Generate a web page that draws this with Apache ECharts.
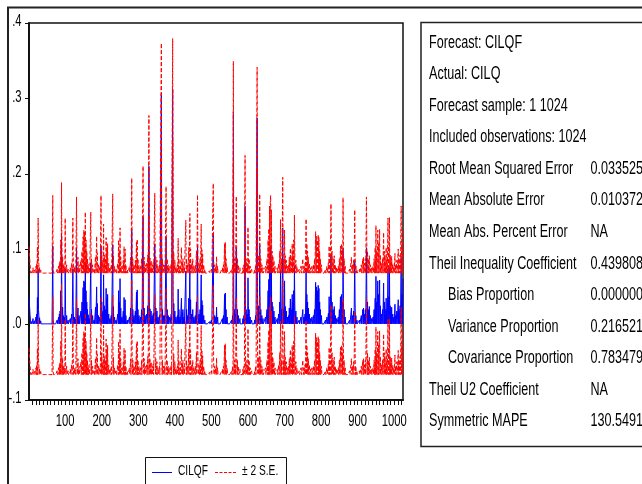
<!DOCTYPE html>
<html>
<head>
<meta charset="utf-8">
<script src="https://cdn.jsdelivr.net/npm/echarts@6/dist/echarts.min.js"></script>
<style>
  html, body { margin: 0; padding: 0; background: #ffffff; }
  #chart { width: 642px; height: 484px; }
</style>
</head>
<body>
<div id="chart"></div>
<script>
// Forecast evaluation: CILQF with ±2 standard-error band, observations 1..1024
const nObs = 1024;
const baseLevel = 0.001;   // forecast level between episodes
const twoSE = 0.0673;      // two forecast standard errors

// Observations where the forecast departs from its base level, and the forecast there
const spikeObs = [
  1, 2, 3, 4, 5, 8, 12, 16, 20, 22, 24, 26, 27, 28, 30, 33,
  66, 67,
  78, 82, 84, 86, 88, 90, 91, 93, 95, 98, 100, 101, 104, 108,
  114, 118, 121, 122, 125, 128, 131, 132, 135, 138,
  143, 146, 149, 151, 153, 155, 157, 159, 161, 163,
  166, 170, 172, 175, 179, 183, 186, 188, 191, 195,
  198, 200, 203, 205, 207, 210, 212, 214, 216, 219,
  222, 226, 230, 232, 235, 239,
  244, 246, 248, 250, 252, 255,
  259, 261, 264, 266, 270,
  276, 279, 282, 283, 285, 288,
  292, 295, 297, 299, 302,
  306, 309, 313, 314, 316, 319,
  323, 326, 329, 330, 332, 335, 338,
  341, 345, 346, 348, 351, 354,
  358, 363, 364, 366, 369,
  372, 376, 377, 379, 382,
  386, 390, 394, 395, 397, 400, 403,
  407, 409, 411, 414, 418, 420, 422, 425,
  430, 432, 435, 438, 441, 443, 446, 449, 452,
  456, 459, 462, 463, 466, 469, 472, 474, 476, 479, 482,
  495, 500, 505, 506, 509, 512, 514, 517,
  530, 533, 536, 538, 540, 543,
  555, 558, 560, 561, 563, 565, 568, 569, 571, 574, 578,
  586, 589, 592, 593, 595, 598, 600, 601, 603, 606, 610,
  618, 621, 625, 626, 628, 630, 632, 633, 635, 638, 641,
  648, 652, 655, 657, 659, 661, 662, 664, 666, 668, 671, 674,
  680, 684, 687, 689, 690, 692, 695, 696, 698, 700, 702, 705, 708,
  711, 713, 716, 718, 721, 723, 725, 727, 728, 731, 734,
  740, 745, 750, 753, 756, 759, 761, 763, 765, 768, 771,
  775, 779, 782, 785, 787, 790, 792, 794, 796, 798, 801,
  812, 816, 820, 822, 824, 827, 828, 830, 833, 836, 839, 842,
  847, 850, 853, 856, 858, 860, 861, 863, 866,
  878, 883, 886, 889, 892, 893, 895, 898,
  905, 910, 914, 916, 919, 921, 924, 925, 927, 929, 932, 935, 938,
  942, 945, 948, 950, 952, 955, 957, 960, 962, 965, 968, 971, 973, 975, 978, 980, 983, 985, 987, 989, 991, 993, 996, 999,
  1002, 1004, 1007, 1011, 1013, 1016, 1019, 1021, 1022, 1024
];
const spikeVal = [
  0.036, 0.034, 0.038, 0.012, 0.006, 0.004, 0.008, 0.005, 0.010, 0.014, 0.036, 0.074, 0.020, 0.012, 0.009, 0.005,
  0.104, 0.006,
  0.006, 0.010, 0.014, 0.018, 0.045, 0.121, 0.028, 0.023, 0.012, 0.010, 0.074, 0.020, 0.012, 0.006,
  0.008, 0.014, 0.074, 0.024, 0.010, 0.007, 0.102, 0.020, 0.022, 0.012,
  0.018, 0.030, 0.049, 0.058, 0.056, 0.082, 0.045, 0.030, 0.020, 0.013,
  0.008, 0.082, 0.020, 0.012, 0.006, 0.023, 0.050, 0.028, 0.012, 0.010,
  0.104, 0.030, 0.018, 0.066, 0.025, 0.020, 0.048, 0.035, 0.040, 0.014,
  0.008, 0.012, 0.106, 0.024, 0.010, 0.006,
  0.014, 0.045, 0.030, 0.061, 0.022, 0.010,
  0.018, 0.036, 0.033, 0.012, 0.006,
  0.010, 0.022, 0.127, 0.030, 0.020, 0.012,
  0.018, 0.043, 0.046, 0.020, 0.012,
  0.010, 0.020, 0.143, 0.030, 0.022, 0.012,
  0.014, 0.025, 0.210, 0.040, 0.021, 0.018, 0.012,
  0.015, 0.107, 0.030, 0.022, 0.018, 0.010,
  0.012, 0.306, 0.040, 0.020, 0.012,
  0.012, 0.116, 0.030, 0.020, 0.012,
  0.010, 0.014, 0.312, 0.040, 0.028, 0.018, 0.010,
  0.012, 0.047, 0.020, 0.010, 0.035, 0.016, 0.020, 0.010,
  0.071, 0.020, 0.012, 0.035, 0.080, 0.033, 0.014, 0.020, 0.010,
  0.012, 0.030, 0.105, 0.025, 0.014, 0.020, 0.066, 0.032, 0.026, 0.012, 0.006,
  0.004, 0.006, 0.120, 0.020, 0.012, 0.010, 0.023, 0.010,
  0.008, 0.012, 0.040, 0.042, 0.020, 0.010,
  0.006, 0.012, 0.282, 0.035, 0.020, 0.014, 0.103, 0.028, 0.020, 0.012, 0.008,
  0.008, 0.012, 0.157, 0.030, 0.020, 0.014, 0.062, 0.025, 0.020, 0.010, 0.006,
  0.006, 0.012, 0.274, 0.040, 0.025, 0.020, 0.106, 0.030, 0.020, 0.012, 0.008,
  0.010, 0.020, 0.045, 0.060, 0.090, 0.095, 0.104, 0.085, 0.030, 0.024, 0.018, 0.010,
  0.008, 0.014, 0.030, 0.072, 0.040, 0.020, 0.128, 0.030, 0.020, 0.058, 0.024, 0.018, 0.010,
  0.012, 0.022, 0.034, 0.020, 0.040, 0.030, 0.045, 0.078, 0.030, 0.018, 0.010,
  0.006, 0.010, 0.020, 0.010, 0.014, 0.073, 0.040, 0.030, 0.022, 0.014, 0.008,
  0.010, 0.012, 0.020, 0.056, 0.050, 0.045, 0.052, 0.048, 0.030, 0.020, 0.012,
  0.006, 0.010, 0.015, 0.037, 0.025, 0.093, 0.040, 0.030, 0.020, 0.024, 0.012, 0.008,
  0.010, 0.020, 0.037, 0.040, 0.030, 0.101, 0.035, 0.020, 0.010,
  0.006, 0.022, 0.012, 0.018, 0.085, 0.030, 0.012, 0.006,
  0.006, 0.012, 0.020, 0.022, 0.014, 0.020, 0.102, 0.040, 0.030, 0.020, 0.024, 0.012, 0.008,
  0.010, 0.020, 0.035, 0.064, 0.030, 0.058, 0.040, 0.059, 0.025, 0.014, 0.020, 0.055, 0.030, 0.020, 0.035, 0.020, 0.074, 0.037, 0.075, 0.025, 0.020, 0.023, 0.014, 0.010,
  0.027, 0.012, 0.018, 0.033, 0.020, 0.025, 0.090, 0.040, 0.020, 0.061
];

// Axis tick labels
const xTickLabels = [100, 200, 300, 400, 500, 600, 700, 800, 900, 1000];
const xTickEvery = 10;
const yTickValues = [-0.1, 0.0, 0.1, 0.2, 0.3, 0.4];
const yMin = -0.1, yMax = 0.4, yStep = 0.1;

// Forecast evaluation statistics
const statLabels = [
  'Forecast: CILQF',
  'Actual: CILQ',
  'Forecast sample: 1 1024',
  'Included observations: 1024',
  'Root Mean Squared Error',
  'Mean Absolute Error',
  'Mean Abs. Percent Error',
  'Theil Inequality Coefficient',
  'Bias Proportion',
  'Variance Proportion',
  'Covariance Proportion',
  'Theil U2 Coefficient',
  'Symmetric MAPE'
];
const statValues = ['', '', '', '', '0.033525', '0.010372', 'NA', '0.439808', '0.000000', '0.216521', '0.783479', 'NA', '130.5491'];
const statIndent = [0, 0, 0, 0, 0, 0, 0, 0, 1, 1, 1, 0, 0];

const legendNames = ['CILQF', '± 2 S.E.'];

// ---- build series ----
const categories = Array.from({ length: nObs }, (_, i) => String(i + 1));
const forecast = new Array(nObs).fill(baseLevel);
spikeObs.forEach((obs, k) => { forecast[obs - 1] = spikeVal[k]; });
const upper = forecast.map(v => +(v + twoSE).toFixed(5));
const lower = forecast.map(v => +(v - twoSE).toFixed(5));

const FAMILY = '"Liberation Sans", Arial, sans-serif';
const INK = '#000000';
const BLUE = '#0000ff';
const RED = '#ff0000';

function fmtY(v) {
  const s = (Math.round(v * 10) / 10).toFixed(1);
  return s.replace(/^(-?)0\./, '$1.');
}

// condensed text: regular face squeezed horizontally
function narrowText(str, x, y, size, squeeze, align) {
  return {
    type: 'text', x: x, y: y, scaleX: squeeze, z: 5, silent: true,
    style: { text: str, x: 0, y: 0, fill: INK, font: size + 'px ' + FAMILY, align: align || 'left', verticalAlign: 'middle' }
  };
}

const chart = echarts.init(document.getElementById('chart'), null, { renderer: 'canvas' });
chart.setOption({
  animation: false,
  backgroundColor: '#ffffff',
  grid: {
    left: 29, top: 23, right: 239, bottom: 84,
    show: true, borderColor: '#111111', borderWidth: 1.5, backgroundColor: 'transparent'
  },
  xAxis: {
    type: 'category',
    data: categories,
    boundaryGap: false,
    axisLine: { show: true, onZero: false, lineStyle: { color: '#111111', width: 2 } },
    axisTick: {
      show: true, inside: false, length: 5,
      interval: (idx) => (idx + 1) % xTickEvery === 0,
      lineStyle: { color: '#111111', width: 1 }
    },
    axisLabel: { show: false },
    splitLine: { show: false }
  },
  yAxis: {
    type: 'value',
    min: yMin, max: yMax, interval: yStep,
    axisLine: { show: true, lineStyle: { color: '#111111', width: 2 } },
    axisTick: { show: true, length: 4, lineStyle: { color: '#111111' } },
    axisLabel: { show: false },
    splitLine: { show: false }
  },
  series: [
    {
      name: legendNames[0], type: 'line', data: forecast,
      symbol: 'none', showSymbol: false,
      lineStyle: { color: BLUE, width: 1 },
      z: 2
    },
    {
      name: legendNames[1], type: 'line', data: upper,
      symbol: 'none', showSymbol: false,
      lineStyle: { color: RED, width: 1, type: [4, 2] },
      z: 3
    },
    {
      name: legendNames[1], type: 'line', data: lower,
      symbol: 'none', showSymbol: false,
      lineStyle: { color: RED, width: 1, type: [4, 2] },
      z: 3
    }
  ]
});

// ---- tick labels placed through the axes' own scales ----
const graphics = [];
const yAxisPix = chart.convertToPixel({ yAxisIndex: 0 }, yMin);
const xAxisLeft = chart.convertToPixel({ xAxisIndex: 0 }, 0);
xTickLabels.forEach(v => {
  const px = chart.convertToPixel({ xAxisIndex: 0 }, v - 1);
  graphics.push(narrowText(String(v), px, yAxisPix + 21.5, 16, 0.7, 'center'));
});
yTickValues.forEach(v => {
  const py = chart.convertToPixel({ yAxisIndex: 0 }, v);
  graphics.push(narrowText(fmtY(v), xAxisLeft - 7.5, py - 1, 16, 0.7, 'right'));
});

// ---- outer frame ----
graphics.push({
  type: 'rect', z: 0, silent: true,
  shape: { x: 8, y: 7.5, width: 700, height: 600 },
  style: { fill: 'none', stroke: '#222222', lineWidth: 2 }
});

// ---- statistics panel ----
graphics.push({
  type: 'rect', z: 1, silent: true,
  shape: { x: 421, y: 22.5, width: 400, height: 424 },
  style: { fill: '#ffffff', stroke: '#222222', lineWidth: 1.5 }
});
statLabels.forEach((lab, i) => {
  const y = 42.7 + i * 31.58;
  graphics.push(narrowText(lab, statIndent[i] ? 448 : 429, y, 17.5, 0.72));
  if (statValues[i]) graphics.push(narrowText(statValues[i], 590.5, y, 17.5, 0.72));
});

// ---- legend ----
graphics.push({
  type: 'rect', z: 1, silent: true,
  shape: { x: 145.5, y: 457.5, width: 141, height: 60 },
  style: { fill: '#ffffff', stroke: '#111111', lineWidth: 1 }
});
graphics.push({
  type: 'line', z: 5, silent: true,
  shape: { x1: 152, y1: 472.5, x2: 172, y2: 472.5 },
  style: { stroke: BLUE, lineWidth: 1 }
});
graphics.push(narrowText(legendNames[0], 178, 470.5, 15, 0.68));
graphics.push({
  type: 'line', z: 5, silent: true,
  shape: { x1: 215, y1: 472.5, x2: 237, y2: 472.5 },
  style: { stroke: RED, lineWidth: 1, lineDash: [3, 1.5] }
});
graphics.push(narrowText(legendNames[1], 242, 470.5, 15, 0.68));

chart.setOption({ graphic: graphics });
</script>
</body>
</html>
